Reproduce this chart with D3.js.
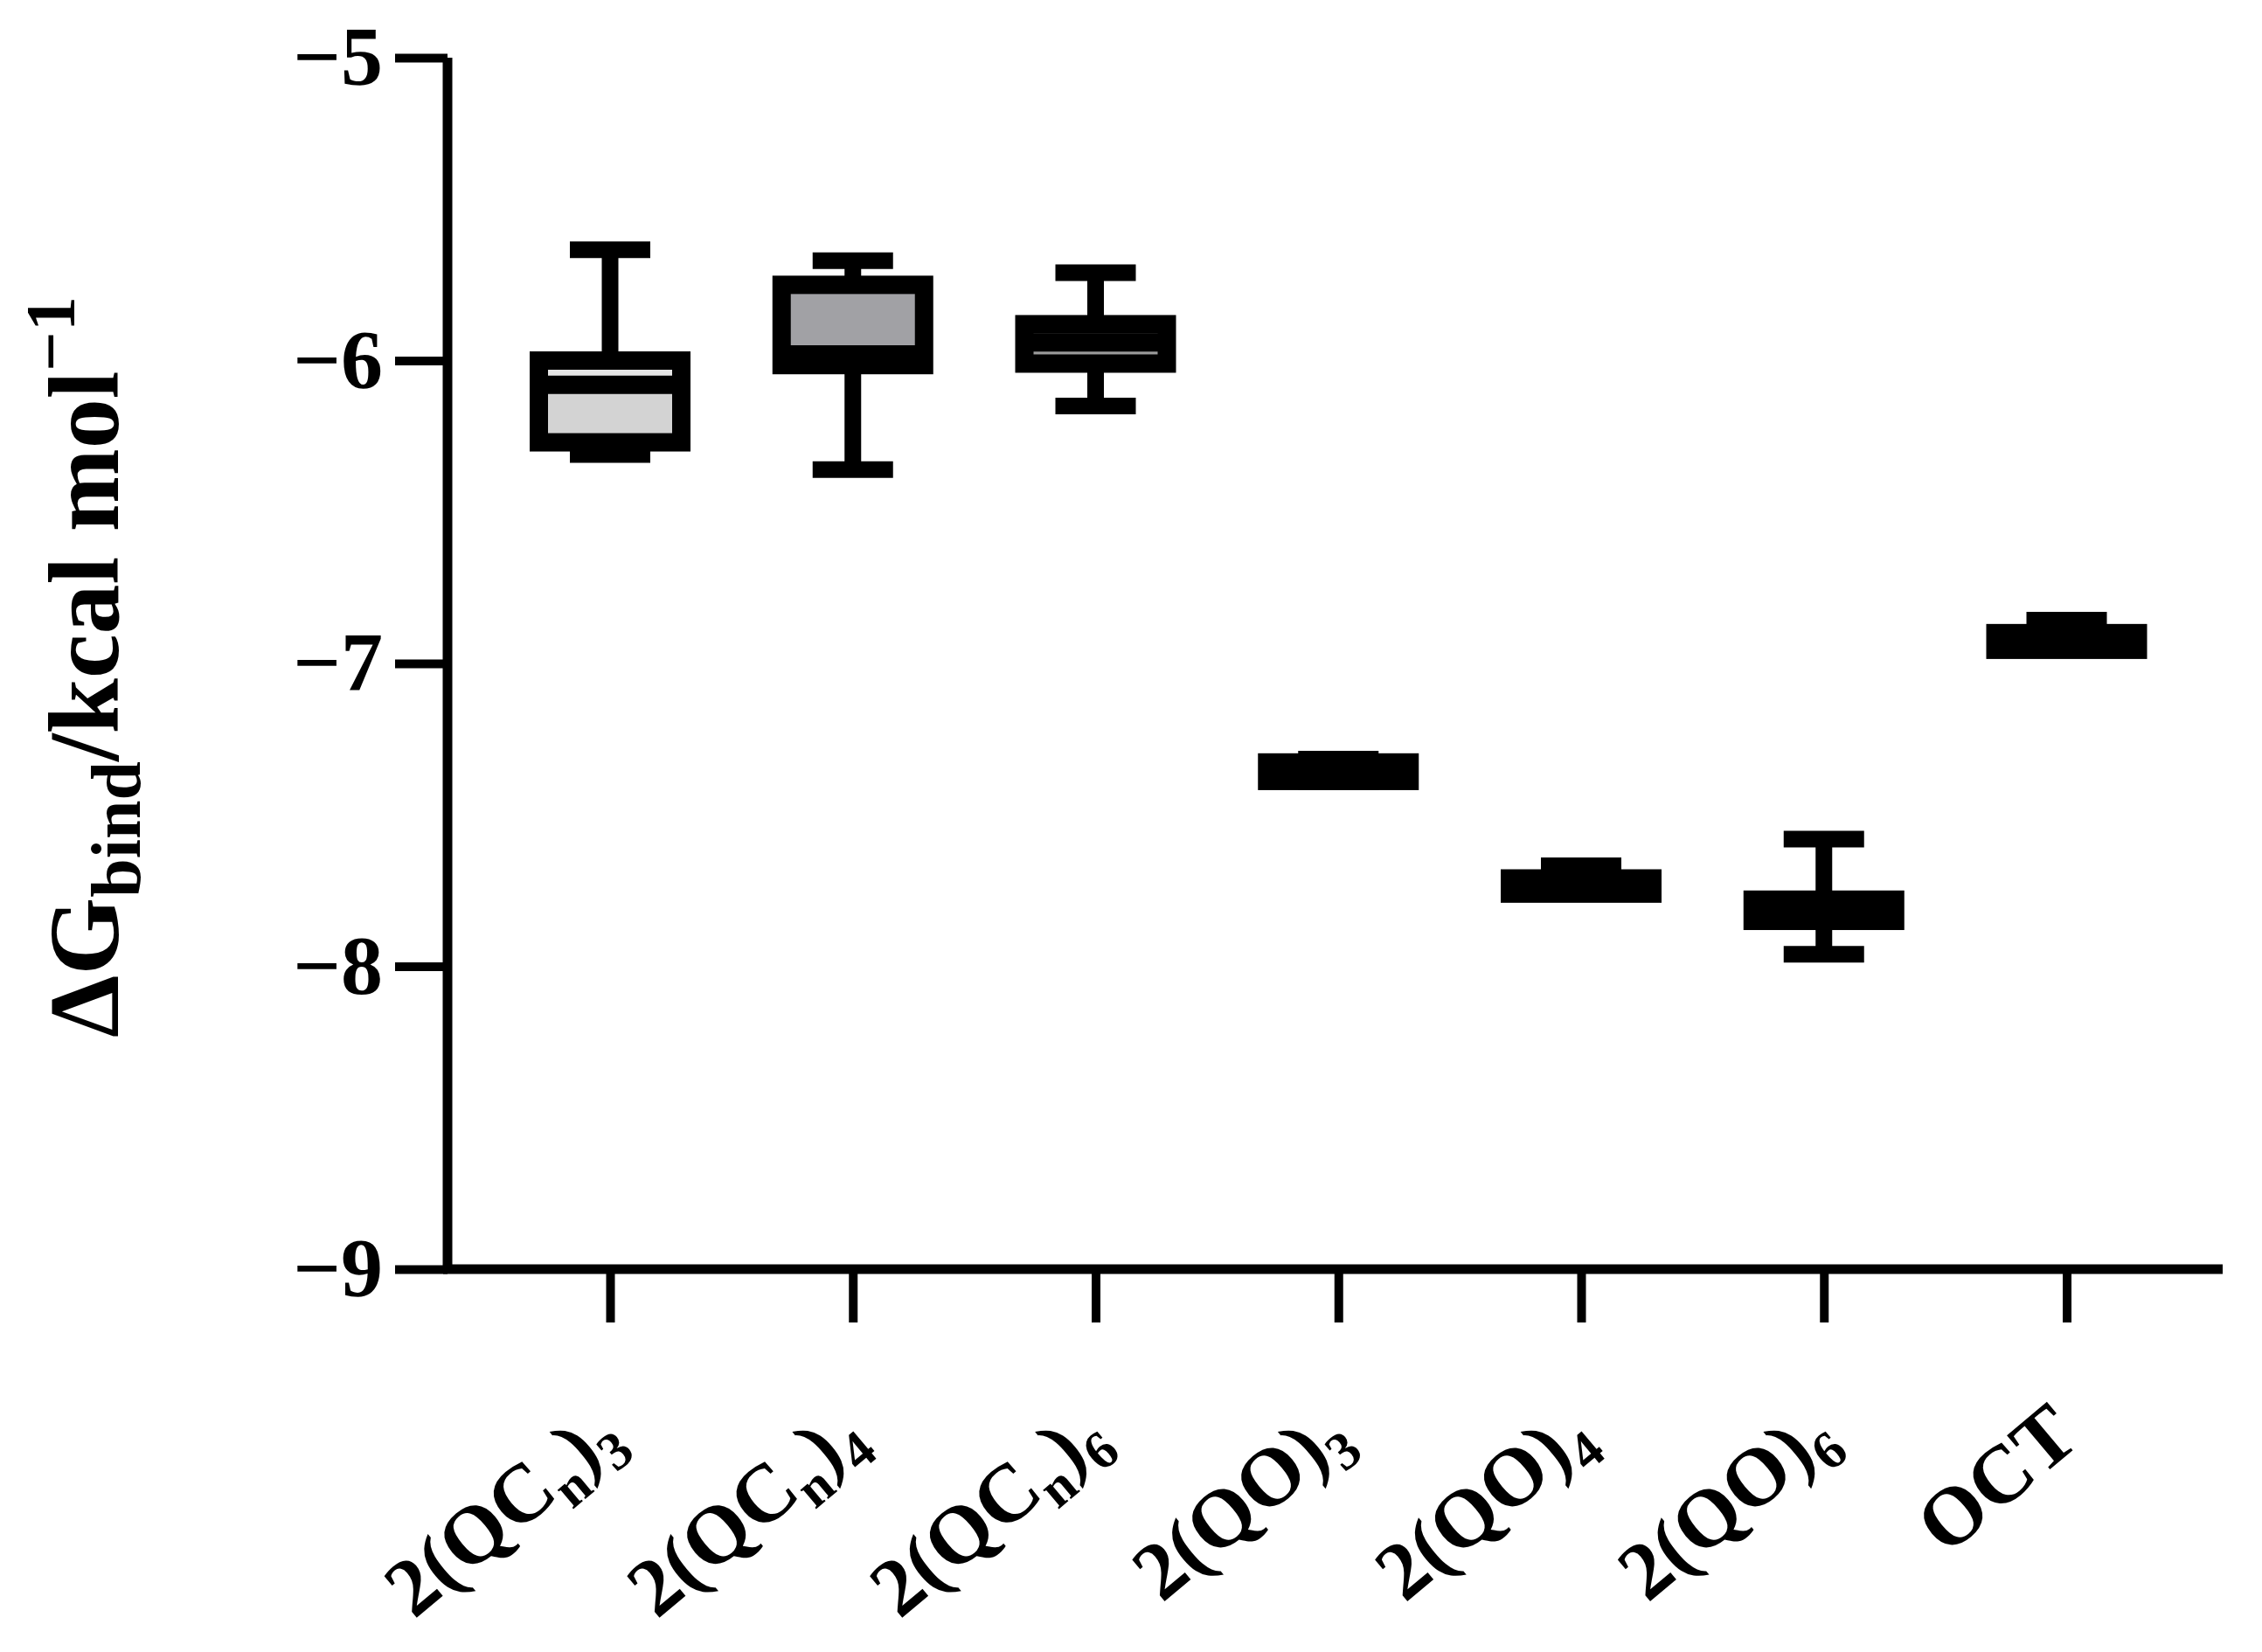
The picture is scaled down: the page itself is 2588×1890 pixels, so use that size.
<!DOCTYPE html>
<html>
<head>
<meta charset="utf-8">
<script src="https://cdn.jsdelivr.net/npm/d3@7"></script>
<style>
  html, body { margin: 0; padding: 0; background: #ffffff; }
  svg { display: block; }
</style>
</head>
<body>
<svg id="chart" width="2588" height="1890"></svg>
<script>
// ---------- data ----------
const categories = ["2(QCn)3", "2(QCn)4", "2(QCn)6", "2(QO)3", "2(QO)4", "2(QO)6", "OCT"];
// rich label pieces: [text, role]
const categoryLabelParts = [
  [["2(QC", ""], ["n", "sub"], [")", ""], ["3", "sub"]],
  [["2(QC", ""], ["n", "sub"], [")", ""], ["4", "sub"]],
  [["2(QC", ""], ["n", "sub"], [")", ""], ["6", "sub"]],
  [["2(QO)", ""], ["3", "sub"]],
  [["2(QO)", ""], ["4", "sub"]],
  [["2(QO)", ""], ["6", "sub"]],
  [["OCT", ""]]
];
const whiskerMax = [-5.634, -5.67, -5.71, -7.316, -7.668, -7.58, -6.857];
const q3Values   = [-6.00, -5.75, -5.88, -7.327, -7.71, -7.78, -6.90];
const medians    = [-6.08, -5.98, -5.94, -7.36, -7.735, -7.815, -6.93];
const q1Values   = [-6.27, -6.015, -6.01, -7.388, -7.76, -7.85, -6.955];
const whiskerMin = [-6.31, -6.36, -6.15, -7.39, -7.76, -7.96, -6.955];
const fillUpper  = ["#e6e6e6", "#a1a1a5", "#9a9a9a", "#000", "#000", "#000", "#000"];
const fillLower  = ["#d3d3d3", "#a1a1a5", "#9a9a9a", "#000", "#000", "#000", "#000"];

const yTickValues = [-9, -8, -7, -6, -5];
const yTickLabels = ["\u22129", "\u22128", "\u22127", "\u22126", "\u22125"];

// ---------- layout ----------
const FONT = "Liberation Serif";
const svg = d3.select("#chart");
const axisX = 512, axisYb = 1452, axisTop = 66, axisRight = 2543;

const y = d3.scaleLinear().domain([-9, -5]).range([axisYb, axisTop]);
const x = d3.scalePoint().domain(categories).range([698, 2364.5]);

// y axis
const yAxis = d3.axisLeft(y)
  .tickValues(yTickValues)
  .tickSize(60)
  .tickSizeOuter(0)
  .tickPadding(14)
  .tickFormat((d, i) => yTickLabels[i]);

const gy = svg.append("g").attr("transform", `translate(${axisX},0)`).call(yAxis)
  .attr("font-family", FONT);
gy.select(".domain").attr("stroke", "#000").attr("stroke-width", 11)
  .attr("d", `M0,${axisTop}V${axisYb + 5}`);
gy.selectAll(".tick line").attr("stroke", "#000").attr("stroke-width", 10);
gy.selectAll(".tick text")
  .attr("font-size", 96)
  .attr("font-family", FONT)
  .attr("font-weight", "bold")
  .attr("fill", "#000");

// x axis
const xAxis = d3.axisBottom(x).tickSize(61).tickSizeOuter(0).tickFormat("");
const gx = svg.append("g").attr("transform", `translate(0,${axisYb})`).call(xAxis);
gx.select(".domain").remove();
gx.selectAll(".tick line").attr("stroke", "#000").attr("stroke-width", 10);
svg.append("line")
  .attr("x1", axisX - 5).attr("x2", axisRight)
  .attr("y1", axisYb).attr("y2", axisYb)
  .attr("stroke", "#000").attr("stroke-width", 11);

// x tick labels (rotated)
categories.forEach((c, i) => {
  const t = svg.append("text")
    .attr("transform", `translate(${x(c) + 18},${axisYb + 198}) rotate(-40)`)
    .attr("text-anchor", "end")
    .attr("font-family", FONT)
    .attr("font-weight", "bold")
    .attr("font-size", 94);
  let shift = 0;
  categoryLabelParts[i].forEach(([s, role]) => {
    const ts = t.append("tspan").text(s);
    if (role === "sub") {
      ts.attr("font-size", 62).attr("dy", 20 - shift);
      shift = 20;
    } else {
      ts.attr("dy", -shift);
      shift = 0;
    }
  });
});

// y axis title
const yt = svg.append("text")
  .attr("transform", `translate(135,763) rotate(-90)`)
  .attr("text-anchor", "middle")
  .attr("font-family", FONT)
  .attr("font-weight", "bold")
  .attr("font-size", 114);
yt.append("tspan").text("\u0394G");
yt.append("tspan").text("bind").attr("font-size", 80).attr("dy", 25);
yt.append("tspan").text("/kcal mol").attr("dy", -25);
yt.append("tspan").text("\u22121").attr("font-size", 80).attr("dy", -50);

// ---------- boxes ----------
const boxW = 163, capW = 92, boxStroke = 21, stemW = 19, capT = 19;
const g = svg.append("g");
categories.forEach((c, i) => {
  const cx = x(c);
  // whisker stems
  g.append("line").attr("x1", cx).attr("x2", cx)
    .attr("y1", y(whiskerMax[i])).attr("y2", y(q3Values[i]))
    .attr("stroke", "#000").attr("stroke-width", stemW);
  g.append("line").attr("x1", cx).attr("x2", cx)
    .attr("y1", y(q1Values[i])).attr("y2", y(whiskerMin[i]))
    .attr("stroke", "#000").attr("stroke-width", stemW);
  // caps
  [whiskerMax[i], whiskerMin[i]].forEach(v => {
    g.append("line").attr("x1", cx - capW / 2).attr("x2", cx + capW / 2)
      .attr("y1", y(v)).attr("y2", y(v))
      .attr("stroke", "#000").attr("stroke-width", capT);
  });
  // fills
  g.append("rect").attr("x", cx - boxW / 2).attr("width", boxW)
    .attr("y", y(q3Values[i])).attr("height", Math.max(0, y(medians[i]) - y(q3Values[i])))
    .attr("fill", fillUpper[i]);
  g.append("rect").attr("x", cx - boxW / 2).attr("width", boxW)
    .attr("y", y(medians[i])).attr("height", Math.max(0, y(q1Values[i]) - y(medians[i])))
    .attr("fill", fillLower[i]);
  // box outline
  g.append("rect").attr("x", cx - boxW / 2).attr("width", boxW)
    .attr("y", y(q3Values[i])).attr("height", y(q1Values[i]) - y(q3Values[i]))
    .attr("fill", "none").attr("stroke", "#000").attr("stroke-width", boxStroke);
  // median
  g.append("line").attr("x1", cx - boxW / 2).attr("x2", cx + boxW / 2)
    .attr("y1", y(medians[i])).attr("y2", y(medians[i]))
    .attr("stroke", "#000").attr("stroke-width", boxStroke);
});
</script>
</body>
</html>
